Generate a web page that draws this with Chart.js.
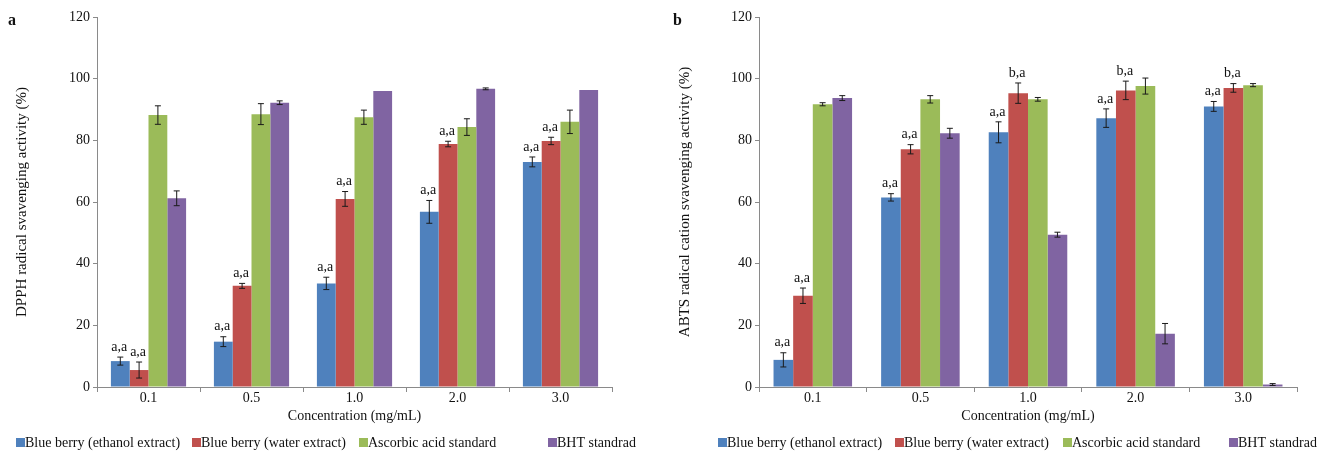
<!DOCTYPE html>
<html>
<head>
<meta charset="utf-8">
<script src="https://cdn.jsdelivr.net/npm/chart.js@4.4.1/dist/chart.umd.min.js"></script>
<style>
  body { margin:0; background:#fff; }
  #wrap { position:relative; width:1326px; height:452px; }
  canvas { position:absolute; top:0; }
  .tag { position:absolute; top:11px; font:bold 16px "Liberation Serif", serif; color:#111; }
</style>
</head>
<body>
<div id="wrap">
  <canvas id="chartA" width="660" height="452" style="left:0"></canvas>
  <canvas id="chartB" width="666" height="452" style="left:660px"></canvas>
  <div class="tag" style="left:8px">a</div>
  <div class="tag" style="left:673px">b</div>
</div>
<script>
// --- data
const categories = ['0.1', '0.5', '1.0', '2.0', '3.0'];
const seriesNames = ['Blue berry (ethanol extract)', 'Blue berry (water extract)', 'Ascorbic acid standard', 'BHT standrad'];
const seriesColors = ['#4F81BD', '#C0504D', '#9BBB59', '#8064A2'];
const yTicks = [0, 20, 40, 60, 80, 100, 120];

// panel a: DPPH
const dpphEthanol = [8.4, 14.7, 33.6, 56.8, 73.0];
const dpphWater = [5.5, 32.8, 61.0, 78.8, 79.8];
const dpphAscorbic = [88.2, 88.5, 87.5, 84.3, 86.0];
const dpphBHT = [61.2, 92.2, 96.0, 96.7, 96.3];
const dpphEthanolErr = [1.3, 1.6, 2.0, 3.7, 1.6];
const dpphWaterErr = [2.6, 0.8, 2.4, 0.9, 1.2];
const dpphAscorbicErr = [3.0, 3.4, 2.3, 2.7, 3.8];
const dpphBHTErr = [2.4, 0.6, 0, 0.3, 0];
const dpphEthanolSig = ['a,a', 'a,a', 'a,a', 'a,a', 'a,a'];
const dpphWaterSig = ['a,a', 'a,a', 'a,a', 'a,a', 'a,a'];

// panel b: ABTS
const abtsEthanol = [8.8, 61.5, 82.6, 87.2, 91.0];
const abtsWater = [29.6, 77.1, 95.3, 96.2, 97.0];
const abtsAscorbic = [91.7, 93.3, 93.3, 97.6, 97.9];
const abtsBHT = [93.7, 82.3, 49.4, 17.3, 0.8];
const abtsEthanolErr = [2.3, 1.2, 3.4, 3.0, 1.6];
const abtsWaterErr = [2.5, 1.5, 3.3, 3.0, 1.4];
const abtsAscorbicErr = [0.5, 1.2, 0.6, 2.6, 0.5];
const abtsBHTErr = [0.8, 1.6, 0.8, 3.3, 0.3];
const abtsEthanolSig = ['a,a', 'a,a', 'a,a', 'a,a', 'a,a'];
const abtsWaterSig = ['a,a', 'a,a', 'b,a', 'b,a', 'b,a'];

const SERIF = '"Liberation Serif", "Times New Roman", serif';

// error bars + significance letters on top of bars
const errorBars = {
  id: 'errorBars',
  afterDatasetsDraw(chart) {
    const { ctx } = chart;
    const y = chart.scales.y;
    ctx.save();
    chart.data.datasets.forEach((ds, i) => {
      chart.getDatasetMeta(i).data.forEach((bar, j) => {
        const v = ds.data[j], e = ds.errors[j] || 0;
        const yt = y.getPixelForValue(v + e), yb = y.getPixelForValue(v - e);
        if (e > 0) {
          ctx.strokeStyle = '#1a1a1a';
          ctx.lineWidth = 1;
          ctx.beginPath();
          ctx.moveTo(bar.x, yt); ctx.lineTo(bar.x, yb);
          ctx.moveTo(bar.x - 3, yt); ctx.lineTo(bar.x + 3, yt);
          ctx.moveTo(bar.x - 3, yb); ctx.lineTo(bar.x + 3, yb);
          ctx.stroke();
        }
        if (ds.sig && ds.sig[j]) {
          ctx.fillStyle = '#111';
          ctx.font = '14px ' + SERIF;
          ctx.textAlign = 'center';
          ctx.textBaseline = 'bottom';
          ctx.fillText(ds.sig[j], bar.x - 1, yt - 3);
        }
      });
    });
    ctx.restore();
  }
};

// legend with hand-placed entries, like the figure
const boxLegend = {
  id: 'boxLegend',
  afterDraw(chart, args, opts) {
    const { ctx } = chart;
    ctx.save();
    ctx.font = '14px ' + SERIF;
    ctx.textBaseline = 'middle';
    ctx.textAlign = 'left';
    chart.data.datasets.forEach((ds, i) => {
      const x = opts.xs[i];
      ctx.fillStyle = ds.backgroundColor;
      ctx.fillRect(x, opts.y - 4, 9, 9);
      ctx.fillStyle = '#111';
      ctx.fillText(ds.label, x + 9, opts.y + 1);
    });
    ctx.restore();
  }
};

function makeChart(id, series, errs, sigs, yTitle, axisWidth, padRight, titlePad, legendXs) {
  new Chart(document.getElementById(id), {
    type: 'bar',
    data: {
      labels: categories,
      datasets: series.map((d, i) => ({
        label: seriesNames[i],
        data: d,
        errors: errs[i],
        sig: sigs[i],
        backgroundColor: seriesColors[i],
        categoryPercentage: 0.73,
        barPercentage: 1.0
      }))
    },
    options: {
      responsive: false,
      animation: false,
      layout: { padding: { top: 17, bottom: 20, left: 0, right: padRight } },
      plugins: {
        legend: { display: false },
        tooltip: { enabled: false },
        boxLegend: { xs: legendXs, y: 442 }
      },
      scales: {
        x: {
          grid: { display: true, drawOnChartArea: false, offset: true, tickLength: 5, color: '#8a8a8a' },
          border: { color: '#8a8a8a' },
          ticks: { color: '#111', padding: -2, font: { family: SERIF, size: 14 } },
          title: { display: true, text: 'Concentration (mg/mL)', color: '#111', padding: { top: 0, bottom: 7 }, font: { family: SERIF, size: 14 } },
          afterFit: s => { s.height = 45; }
        },
        y: {
          min: 0, max: 120,
          afterBuildTicks: s => { s.ticks = yTicks.map(v => ({ value: v })); },
          grid: { display: true, drawOnChartArea: false, tickLength: 4, color: '#8a8a8a' },
          border: { color: '#8a8a8a' },
          ticks: { color: '#111', padding: 3, font: { family: SERIF, size: 14 } },
          title: { display: true, text: yTitle, color: '#111', padding: { top: titlePad, bottom: 0 }, font: { family: SERIF, size: 15 } },
          afterFit: s => { s.width = axisWidth; }
        }
      }
    },
    plugins: [errorBars, boxLegend]
  });
}

makeChart('chartA',
  [dpphEthanol, dpphWater, dpphAscorbic, dpphBHT],
  [dpphEthanolErr, dpphWaterErr, dpphAscorbicErr, dpphBHTErr],
  [dpphEthanolSig, dpphWaterSig, null, null],
  'DPPH radical svavenging activity (%)', 97, 48, 13, [16, 192, 359, 548]);

makeChart('chartB',
  [abtsEthanol, abtsWater, abtsAscorbic, abtsBHT],
  [abtsEthanolErr, abtsWaterErr, abtsAscorbicErr, abtsBHTErr],
  [abtsEthanolSig, abtsWaterSig, null, null],
  'ABTS radical cation svavenging activity (%)', 99, 29, 16, [58, 235, 403, 569]);
</script>
</body>
</html>
